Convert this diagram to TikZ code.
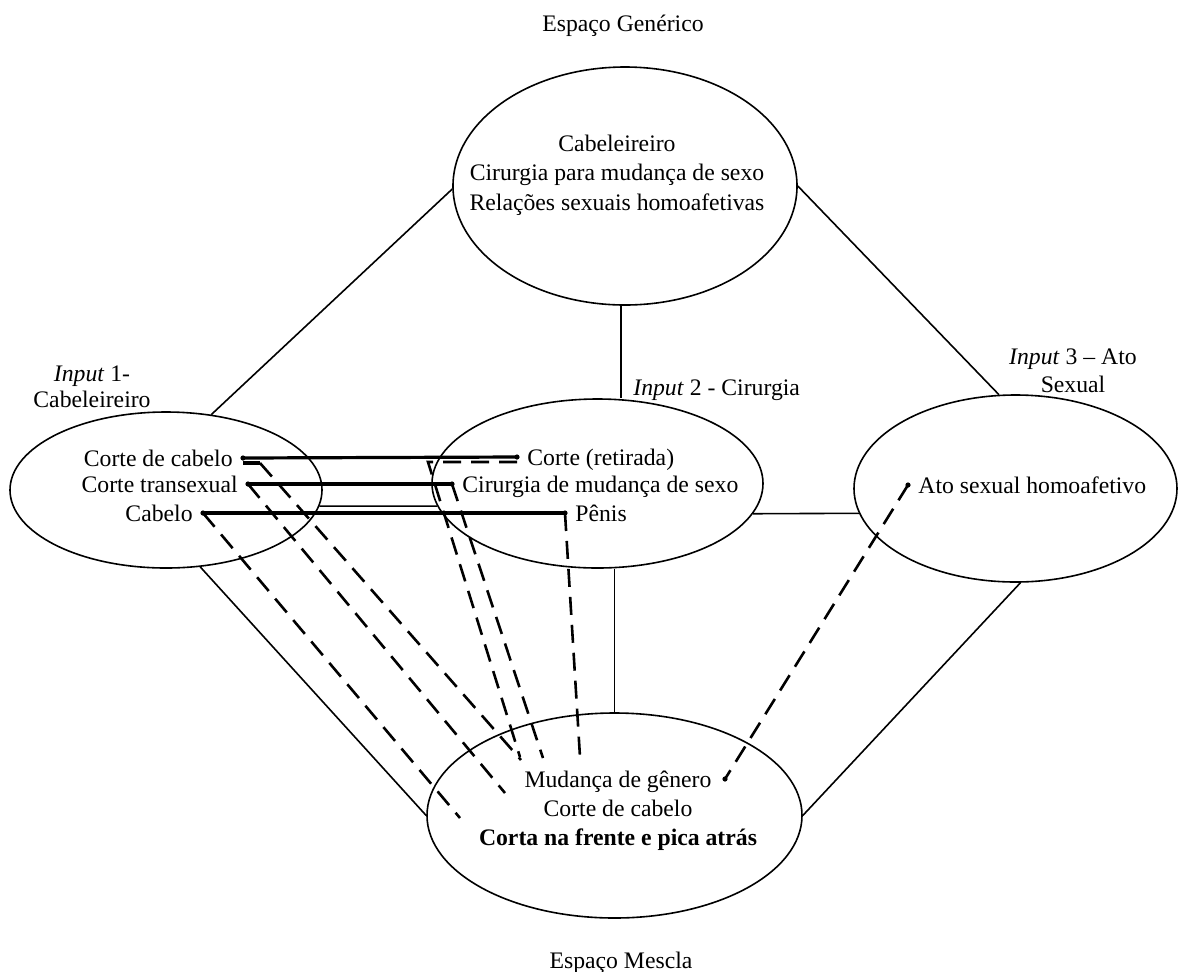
\documentclass[tikz,border=0pt]{standalone}
\usepackage{fontspec}
\setmainfont{Liberation Serif}
\usetikzlibrary{shapes.geometric,calc}
\begin{document}
\begin{tikzpicture}[x=0.5pt,y=-0.5pt,
  space/.style={ellipse,draw,line width=0.8pt,inner sep=0pt},
  txt/.style={inner sep=0pt,font=\fontsize{11.85}{14.5}\selectfont},
  link/.style={line width=0.8pt},
  bond/.style={line width=1.6pt},
  mapping/.style={line width=1.3pt,dash pattern=on 9pt off 5pt}]
\useasboundingbox (0,0) rectangle (1179,971);

% mental spaces
\node[space,minimum width=172pt,minimum height=119pt] (gen) at (625,186) {};
\node[space,minimum width=156pt,minimum height=78pt] (in1) at (166,490) {};
\node[space,minimum width=165.5pt,minimum height=84.5pt] (in2) at (597.5,483.5) {};
\node[space,minimum width=161.5pt,minimum height=93.5pt] (in3) at (1015.5,488.5) {};
\node[space,minimum width=187.5pt,minimum height=102.5pt] (blend) at (614.5,815.5) {};

% space titles
\node[txt,anchor=base] (lbl-gen) at (623,31) {Espaço Genérico};
\node[txt,anchor=base] (lbl-blend) at (621,968) {Espaço Mescla};
\node[txt,align=center,font=\fontsize{11.85}{13}\selectfont] (lbl-in1) at (92,387) {\textit{Input} 1-\\Cabeleireiro};
\node[txt,anchor=base west] (lbl-in2) at (633,395) {\textit{Input} 2 - Cirurgia};
\node[txt,align=center,font=\fontsize{11.85}{14}\selectfont] (lbl-in3) at (1073,371) {\textit{Input} 3 – Ato\\Sexual};

% space contents
\node[txt,align=center,font=\fontsize{11.85}{14.75}\selectfont] (gen-txt) at (617,175)
  {Cabeleireiro\\Cirurgia para mudança de sexo\\Relações sexuais homoafetivas};
\node[txt,align=center] (blend-txt) at (618,810.5)
  {Mudança de gênero\\Corte de cabelo\\\textbf{Corta na frente e pica atrás}};

% element anchors
\coordinate (cc) at (243,458);
\coordinate (ct) at (248,484);
\coordinate (cb) at (203,513);
\coordinate (cr) at (517,457);
\coordinate (cm) at (452,484);
\coordinate (pe) at (565,513);
\coordinate (at) at (908,485);
\coordinate (mg) at (725,779);

\node[txt,anchor=base east] (t-cc) at ($(cc)+(-10,8)$) {Corte de cabelo};
\node[txt,anchor=base east] (t-ct) at ($(ct)+(-10,8)$) {Corte transexual};
\node[txt,anchor=base east] (t-cb) at ($(cb)+(-10,8)$) {Cabelo};
\node[txt,anchor=base west] (t-cr) at ($(cr)+(10,8)$) {Corte (retirada)};
\node[txt,anchor=base west] (t-cm) at ($(cm)+(10,8)$) {Cirurgia de mudança de sexo};
\node[txt,anchor=base west] (t-pe) at ($(pe)+(10,8)$) {Pênis};
\node[txt,anchor=base west] (t-at) at ($(at)+(10,8)$) {Ato sexual homoafetivo};

% ends of the projections inside the blend
\coordinate (b-cb) at (460,818);
\coordinate (b-ct) at (505,793);
\coordinate (b-cc) at (521,760);
\coordinate (b-cr) at (520,757);
\coordinate (b-cm) at (543,758);
\coordinate (b-pe) at (580,757);
\coordinate (cr-bend) at (428,462);

% links between spaces
\draw[link] (gen.181) -- (in1.59);
\draw[link] (gen.0) -- (in3.100);
\draw[link] (gen.268) -- (gen.268 |- in2.north);
\draw[link] (in1.354) -- (in2.188);
\draw[link] (in2.349) -- (in3.189);
\draw[link] (in1.294) -- (blend.west);
\draw[link] (in3.273) -- (blend.east);
\draw[link] (in2.south -| blend.north) -- (blend.north);

% cross-space mappings
\draw[bond] (cc) -- (cr);
\draw[bond] (ct) -- (cm);
\draw[bond] (cb) -- (pe);
\draw[bond] ($(cc)+(0,5)$) -- ++(17,0) coordinate (cc-bend);

% projections to the blend
\draw[mapping] (cc-bend) -- (b-cc);
\draw[mapping] (ct) -- (b-ct);
\draw[mapping] (cb) -- (b-cb);
\draw[mapping] ($(cr)+(0,5)$) -- (cr-bend) -- (b-cr);
\draw[mapping] (cm) -- (b-cm);
\draw[mapping] (pe) -- (b-pe);
\draw[mapping] (at) -- (mg);

\foreach \p in {cc,ct,cb,cr,cm,pe,at,mg} \fill (\p) circle (1.3pt);
\end{tikzpicture}
\end{document}
